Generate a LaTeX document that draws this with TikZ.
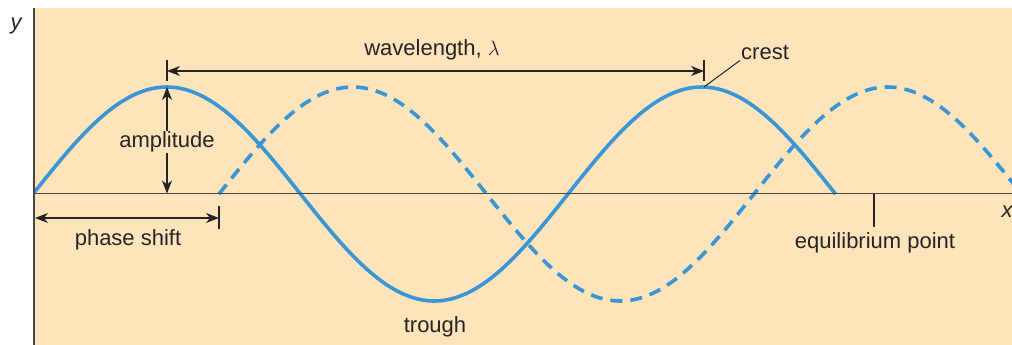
\documentclass[tikz,border=0pt]{standalone}
\usepackage{fontspec}
\setmainfont{Liberation Sans}
\usetikzlibrary{arrows.meta}
\definecolor{bgpeach}{RGB}{253,228,186}
\definecolor{waveblue}{RGB}{58,150,214}
\definecolor{inkdark}{RGB}{40,36,38}
\tikzset{
  wave/.style={waveblue, line width=3.6pt},
  dwave/.style={waveblue, line width=3.6pt, dash pattern=on 12pt off 8pt},
  axisline/.style={inkdark!85, line width=1.8pt},
  dimarrow/.style={inkdark, line width=1.5pt, -{Stealth[length=13pt,width=10pt,inset=4pt]}},
  dimboth/.style={inkdark, line width=1.5pt, {Stealth[length=13pt,width=10pt,inset=4pt]}-{Stealth[length=13pt,width=10pt,inset=4pt]}},
  tickline/.style={inkdark, line width=1.5pt},
  lbl/.style={text=inkdark, font=\fontsize{22}{24}\selectfont, inner sep=1pt},
  axlbl/.style={text=inkdark, font=\fontsize{22}{24}\selectfont\itshape, inner sep=0pt}
}
\begin{document}
\begin{tikzpicture}[x=1pt,y=-1pt]
\useasboundingbox (0,0) rectangle (1012,345);
\fill[bgpeach] (33,8) rectangle (1012,345);
\begin{scope}
\clip (33,8) rectangle (1012,345);
% dashed (shifted) wave
\draw[dwave] plot[domain=219:1030, samples=200, smooth] (\x,{194-107*sin(0.672897*(\x-219))});
% solid wave
\draw[wave] plot[domain=33:835.5, samples=200, smooth] (\x,{194-107*sin(0.672897*(\x-33))});
\end{scope}
% axes
\draw[axisline] (34,8) -- (34,345);
\draw[axisline] (33,193.5) -- (1012,193.5);
\node[axlbl] (ylab) at (16,26) {y};
\node[axlbl] (xlab) at (1007,212) {x};
% coordinates
\coordinate (c1) at (167,87);
\coordinate (c1base) at (167,193.5);
\coordinate (c2) at (704,87);
\coordinate (wl1) at (167,71);
\coordinate (wl2) at (704,71);
\coordinate (ps1) at (35,218);
\coordinate (ps2) at (219,218);
\coordinate (eq) at (874,193.5);
\coordinate (eqb) at (874,227);
% wavelength
\draw[tickline] (167,60) -- (167,81);
\draw[tickline] (704,60) -- (704,81);
\draw[dimboth] (wl1) -- (wl2);
\node[lbl] (wavelength) at (432,50) {wavelength, $\lambda$};
% crest
\node[lbl, anchor=west] (crest) at (740,52) {crest};
\draw[tickline, line width=1pt] (c2) -- (crest.south west);
% amplitude
\node[lbl] (amplitude) at (167,142) {amplitude};
\draw[dimarrow] (amplitude.north) -- (c1);
\draw[dimarrow] (amplitude.south) -- (c1base);
% phase shift
\draw[tickline] (219,206) -- (219,229);
\draw[dimboth] (ps1) -- (ps2);
\node[lbl] (phase) at (128,240) {phase shift};
% equilibrium point
\draw[tickline] (eq) -- (eqb);
\node[lbl] (equil) at (875,243) {equilibrium point};
% trough
\node[lbl] (trough) at (435,327) {trough};
\end{tikzpicture}
\end{document}
